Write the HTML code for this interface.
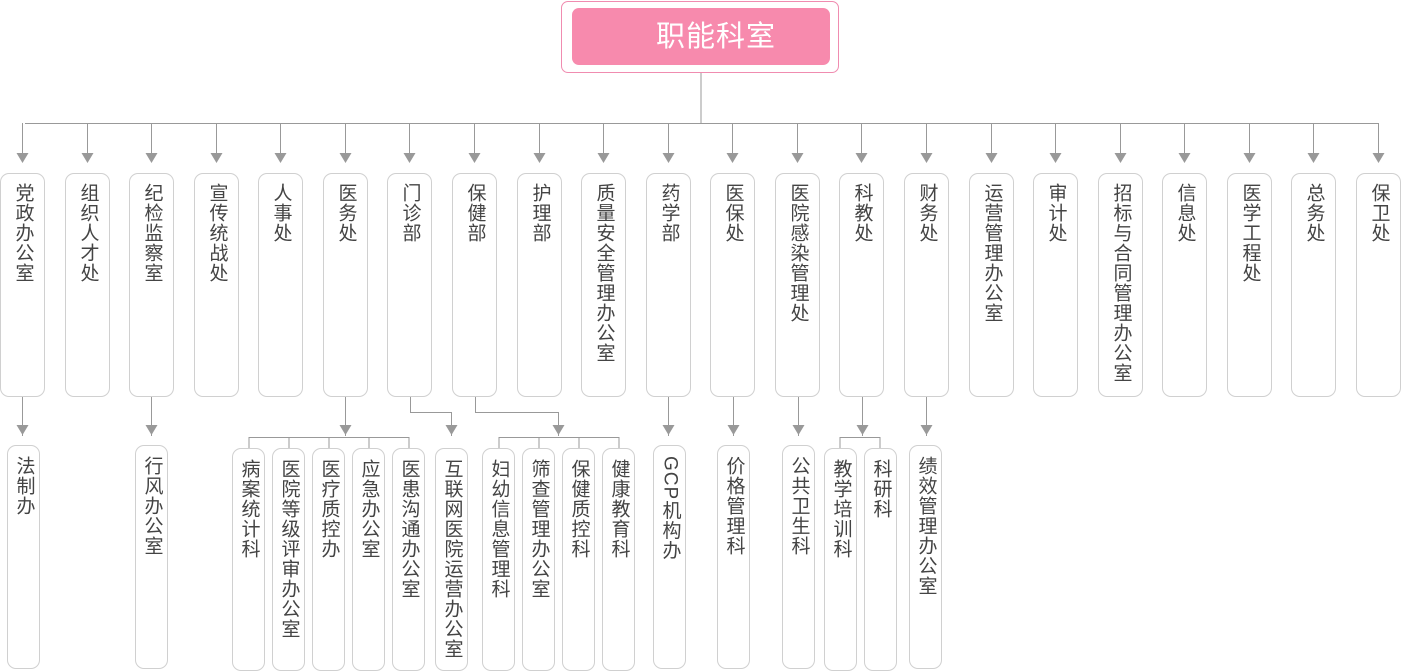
<!DOCTYPE html>
<html><head><meta charset="utf-8"><style>
body{margin:0;width:1401px;height:672px;background:#fff;position:relative;overflow:hidden;font-family:"Liberation Sans","Noto Sans CJK SC",sans-serif}
.b{position:absolute;box-sizing:border-box;border:1px solid #d0d0d0;border-radius:9px;background:#fff;}
.b span{position:absolute;left:50%;transform:translateX(-50%);writing-mode:vertical-rl;text-orientation:mixed;font-size:19px;line-height:20px;letter-spacing:1px;color:#444;white-space:nowrap}
.t{top:173px;height:224px;width:45px}
.t span{top:9px}
.s{width:33px}
.s span{top:10px}
</style></head><body>
<div style="position:absolute;left:561px;top:1px;width:278px;height:72px;box-sizing:border-box;border:1px solid #f08cb0;border-radius:7px"></div>
<div style="position:absolute;left:572px;top:8px;width:258px;height:57px;background:#f78aad;border-radius:7px;color:#fff;font-size:29px;line-height:59px;text-align:center;letter-spacing:1px;box-sizing:border-box;padding-left:30px">职能科室</div>
<svg width="1401" height="672" style="position:absolute;left:0;top:0" fill="#999" stroke="#999">
<g fill="none" stroke-width="1">
<path d="M701 73V123M25 123.5H1379"/>
<path d="M22.5 396V436M151.5 396V436M345.5 396V436M249 437.5H409M249 437V448M289 437V448M329 437V448M369 437V448M409 437V448"/>
<path d="M410.5 396V412.5H451.5V436M475.5 396V412.5H558.5V436M499 437.5H619M499 437V448M539 437V448M579 437V448M619 437V448"/>
<path d="M668.5 396V436M733.5 396V436M798.5 396V436M862.5 396V436M840 437.5H880M840 437V448M880 437V448M926.5 396V436"/>
</g>
<g stroke="none" id="arr"></g>
</svg>
<script>
var names=["党政办公室","组织人才处","纪检监察室","宣传统战处","人事处","医务处","门诊部","保健部","护理部","质量安全管理办公室","药学部","医保处","医院感染管理处","科教处","财务处","运营管理办公室","审计处","招标与合同管理办公室","信息处","医学工程处","总务处","保卫处"];
var h="",a="",p=1356/21;
names.forEach(function(n,i){var x=Math.round(i*p);h+='<div class="b t" style="left:'+x+'px"><span>'+n+'</span></div>';var c=x+22.5;a+='<path d="M'+(c-6)+' 153H'+(c+6)+'L'+c+' 163Z"/><path d="M'+c+' 123V154" stroke="#999" fill="none"/>';});
var bs=[["法制办",7,445],["行风办公室",135,445],["病案统计科",232,448],["医院等级评审办公室",272,448],["医疗质控办",312,448],["应急办公室",352,448],["医患沟通办公室",392,448],["互联网医院运营办公室",435,448],["妇幼信息管理科",482,448],["筛查管理办公室",522,448],["保健质控科",562,448],["健康教育科",602,448],["GCP机构办",653,445],["价格管理科",717,445],["公共卫生科",782,445],["教学培训科",824,448],["科研科",864,448],["绩效管理办公室",909,445]];
bs.forEach(function(b){h+='<div class="b s" style="left:'+b[1]+'px;top:'+b[2]+'px;height:'+(b[2]==445?224:223)+'px"><span>'+b[0]+'</span></div>';});
[22.5,151.5,345.5,451.5,558.5,668.5,733.5,798.5,862.5,926.5].forEach(function(c){a+='<path d="M'+(c-6)+' 425H'+(c+6)+'L'+c+' 435Z"/>';});
document.getElementById('arr').innerHTML=a;
document.body.insertAdjacentHTML('beforeend',h);
</script>
</body></html>
